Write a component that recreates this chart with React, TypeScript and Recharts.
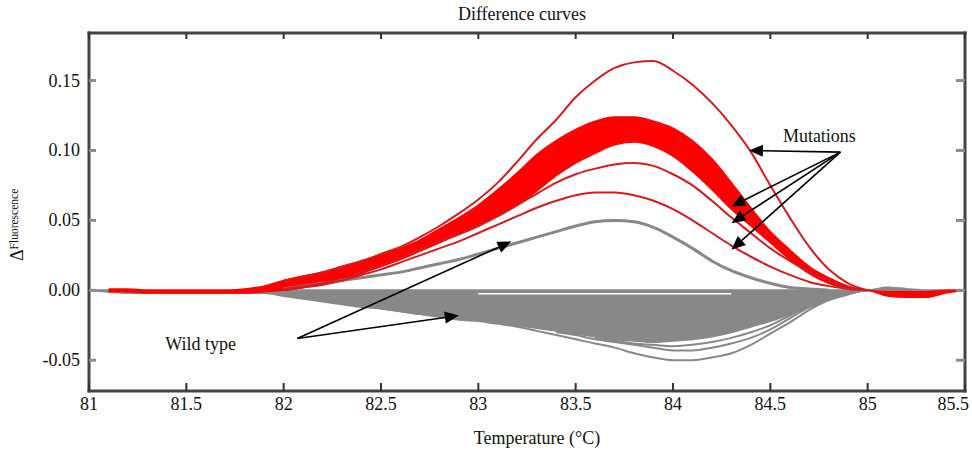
import { ComposedChart, Area, Line, XAxis, YAxis, ReferenceLine, ReferenceDot, ReferenceArea } from 'recharts'

// temperature grid (°C)
const temperature = [
  81.0, 81.1, 81.2, 81.3, 81.4, 81.5, 81.6, 81.7, 81.8, 81.9,
  82.0, 82.1, 82.2, 82.3, 82.4, 82.5, 82.6, 82.7, 82.8, 82.9,
  83.0, 83.1, 83.2, 83.3, 83.4, 83.5, 83.6, 83.7, 83.8, 83.9,
  84.0, 84.1, 84.2, 84.3, 84.4, 84.5, 84.6, 84.7, 84.8, 84.9,
  85.0, 85.1, 85.2, 85.3, 85.4, 85.5,
]

// dense cluster of mutation curves (upper / lower envelope)
const redBandHi = [
  null, 0.001, 0.001, 0.0, 0.0, 0.0, 0.0, 0.0, 0.001, 0.003,
  0.007, 0.010, 0.013, 0.017, 0.021, 0.025, 0.030, 0.036, 0.044, 0.052,
  0.061, 0.072, 0.084, 0.097, 0.107, 0.115, 0.121, 0.124, 0.124, 0.121,
  0.116, 0.107, 0.094, 0.077, 0.059, 0.042, 0.029, 0.017, 0.009, 0.003,
  0.0, -0.001, -0.001, -0.001, 0.0, 0.0,
]
const redBandLo = [
  null, -0.001, -0.001, -0.002, -0.002, -0.002, -0.002, -0.002, -0.002, -0.001,
  0.0, 0.002, 0.004, 0.008, 0.012, 0.017, 0.022, 0.028, 0.034, 0.040,
  0.046, 0.053, 0.061, 0.071, 0.082, 0.091, 0.098, 0.104, 0.106, 0.103,
  0.096, 0.085, 0.072, 0.058, 0.046, 0.034, 0.022, 0.012, 0.005, 0.001,
  0.0, -0.004, -0.005, -0.005, -0.002, 0.0,
]

// single mutation curves
const redTop = [
  null, null, null, null, null, null, null, null, null, null,
  0.007, 0.010, 0.013, 0.017, 0.021, 0.026, 0.031, 0.038, 0.046, 0.055,
  0.065, 0.077, 0.092, 0.108, 0.122, 0.138, 0.150, 0.159, 0.163, 0.164,
  0.157, 0.147, 0.134, 0.118, 0.099, 0.075, 0.052, 0.031, 0.015, 0.005,
  0.0, null, null, null, null, null,
]
const redMid = [
  null, null, null, null, null, null, null, null, null, null,
  0.001, 0.003, 0.005, 0.009, 0.013, 0.018, 0.023, 0.029, 0.035, 0.040,
  0.046, 0.053, 0.061, 0.069, 0.077, 0.083, 0.087, 0.090, 0.091, 0.089,
  0.083, 0.075, 0.064, 0.052, 0.041, 0.030, 0.021, 0.013, 0.007, 0.002,
  0.0, null, null, null, null, null,
]
const redLow = [
  null, null, null, null, null, null, null, null, null, null,
  0.0, 0.002, 0.004, 0.007, 0.011, 0.015, 0.020, 0.025, 0.030, 0.035,
  0.041, 0.047, 0.053, 0.059, 0.064, 0.068, 0.070, 0.070, 0.068, 0.064,
  0.058, 0.050, 0.041, 0.032, 0.024, 0.017, 0.011, 0.006, 0.003, 0.001,
  0.0, null, null, null, null, null,
]

// wild type curve lying above zero
const grayPeak = [
  null, null, null, null, null, null, null, null, null, null,
  0.001, 0.003, 0.005, 0.007, 0.009, 0.011, 0.013, 0.016, 0.019, 0.022,
  0.026, 0.030, 0.034, 0.038, 0.042, 0.046, 0.049, 0.050, 0.049, 0.045,
  0.038, 0.030, 0.021, 0.014, 0.009, 0.005, 0.002, 0.001, 0.0, null,
  null, null, null, null, null, null,
]

// dense cluster of wild type curves below zero
const grayBandHi = [
  0.0, 0.0, 0.0, 0.0, 0.0, 0.0, 0.0, 0.0, 0.0, 0.0,
  0.0, 0.0, 0.0, 0.0, 0.0, 0.0, 0.0, 0.0, 0.0, 0.0,
  0.0, 0.0, 0.0, 0.0, 0.0, 0.0, 0.0, 0.0, 0.0, 0.0,
  0.0, 0.0, 0.0, 0.0, 0.0, 0.0, 0.0, 0.0, 0.0, 0.0,
  0.0, 0.002, 0.001, 0.0, 0.0, 0.0,
]
const grayBandLo = [
  0.0, -0.001, -0.002, -0.002, -0.002, -0.002, -0.002, -0.002, -0.002, -0.002,
  -0.004, -0.006, -0.008, -0.010, -0.012, -0.013, -0.015, -0.017, -0.018, -0.020,
  -0.021, -0.023, -0.025, -0.027, -0.029, -0.031, -0.033, -0.035, -0.036, -0.037,
  -0.036, -0.035, -0.033, -0.030, -0.026, -0.022, -0.017, -0.012, -0.007, -0.003,
  0.0, 0.0, -0.001, -0.001, -0.001, 0.0,
]
const grayGap = [
  null, null, null, null, null, null, null, null, null, null,
  null, null, null, null, null, null, null, null, null, null,
  -0.0025, -0.0025, -0.0025, -0.0025, -0.0025, -0.0025, -0.0025, -0.0025, -0.0025, -0.0025,
  -0.0025, -0.0025, -0.0025, -0.0025, null, null, null, null, null, null,
  null, null, null, null, null, null,
]

// wild type curves that split off below the cluster
const grayLow1 = [
  null, null, null, null, null, null, null, null, null, null,
  -0.003, -0.005, -0.007, -0.009, -0.011, -0.013, -0.015, -0.017, -0.019, -0.021,
  -0.022, -0.024, -0.026, -0.029, -0.032, -0.035, -0.038, -0.041, -0.045, -0.048,
  -0.050, -0.050, -0.048, -0.045, -0.039, -0.031, -0.023, -0.014, -0.007, -0.002,
  0.0, null, null, null, null, null,
]
const grayLow2 = [
  null, null, null, null, null, null, null, null, null, null,
  null, null, null, null, null, null, null, null, null, null,
  null, null, null, null, -0.030, -0.032, -0.035, -0.037, -0.039, -0.041,
  -0.043, -0.043, -0.041, -0.038, -0.034, -0.028, -0.020, -0.012, -0.006, -0.002,
  0.0, null, null, null, null, null,
]
const grayLow3 = [
  null, null, null, null, null, null, null, null, null, null,
  null, null, null, null, null, null, null, null, null, null,
  null, null, null, null, null, null, -0.034, -0.036, -0.038, -0.039,
  -0.040, -0.039, -0.037, -0.034, -0.030, -0.025, -0.018, -0.011, -0.006, -0.002,
  0.0, null, null, null, null, null,
]

const xTicks = [81, 81.5, 82, 82.5, 83, 83.5, 84, 84.5, 85, 85.5]
const yTicks = [-0.05, 0, 0.05, 0.1, 0.15]
const xDomain = [81, 85.5]
const yDomain = [-0.072, 0.184]

// annotation arrows (data units)
const mutationsFrom = { x: 84.86, y: 0.0988 }
const mutationsTo = [
  { x: 84.39, y: 0.1 },
  { x: 84.3, y: 0.06 },
  { x: 84.3, y: 0.048 },
  { x: 84.3, y: 0.029 },
]
const wildFrom = { x: 82.07, y: -0.0345 }
const wildTo = [
  { x: 83.17, y: 0.035 },
  { x: 82.9, y: -0.018 },
]

const FONT = '"Liberation Serif", "Times New Roman", serif'
const RED = '#ff0000'
const RED_LINE = '#d41c1c'
const GRAY = '#888888'
const AXIS = '#444444'

const data = temperature.map((t, i) => ({
  t,
  redBand: redBandLo[i] === null ? null : [redBandLo[i], redBandHi[i]],
  grayBand: [grayBandLo[i], grayBandHi[i]],
  redTop: redTop[i],
  redMid: redMid[i],
  redLow: redLow[i],
  grayPeak: grayPeak[i],
  grayGap: grayGap[i],
  grayLow1: grayLow1[i],
  grayLow2: grayLow2[i],
  grayLow3: grayLow3[i],
}))

const Arrow = (props: any) => {
  const { x1, y1, x2, y2 } = props
  const dx = x2 - x1
  const dy = y2 - y1
  const len = Math.hypot(dx, dy) || 1
  const ux = dx / len
  const uy = dy / len
  const hl = 14
  const hw = 6
  const bx = x2 - ux * hl
  const by = y2 - uy * hl
  const pts = `${x2},${y2} ${bx - uy * hw},${by + ux * hw} ${bx + uy * hw},${by - ux * hw}`
  return (
    <g>
      <line x1={x1} y1={y1} x2={bx} y2={by} stroke="#000" strokeWidth={1.6} />
      <polygon points={pts} fill="#000" />
    </g>
  )
}

// plot frame drawn as filled strips
const Frame = (props: any) => {
  const { x, y, width, height } = props
  return (
    <g>
      <rect x={x - 1.5} y={y - 1.5} width={width + 3} height={3} fill={AXIS} />
      <rect x={x - 1.5} y={y + height - 1.5} width={width + 3} height={3} fill={AXIS} />
      <rect x={x - 1.5} y={y - 1.5} width={3} height={height + 3} fill={AXIS} />
      <rect x={x + width - 1.5} y={y - 1.5} width={3} height={height + 3} fill={AXIS} />
      <text x={x + width / 2 - 5} y={y - 13} textAnchor="middle" fontSize={18} fill="#111" fontFamily={FONT}>
        Difference curves
      </text>
    </g>
  )
}

// inward tick marks drawn at both ends of a full-height / full-width reference line
const XTickMarks = (props: any) => {
  const x = props.x1
  const top = Math.min(props.y1, props.y2)
  const bottom = Math.max(props.y1, props.y2)
  return (
    <g>
      <rect x={x - 1} y={top} width={2} height={6} fill="#333" />
      <rect x={x - 1} y={bottom - 8} width={2} height={8} fill="#333" />
    </g>
  )
}
const YTickMarks = (props: any) => {
  const y = props.y1
  const left = Math.min(props.x1, props.x2)
  const right = Math.max(props.x1, props.x2)
  return (
    <g>
      <rect x={left} y={y - 1.5} width={7} height={3} fill="#8c8c8c" />
      <rect x={right - 9} y={y - 1.5} width={9} height={3} fill="#8c8c8c" />
    </g>
  )
}

const BottomTick = (props: any) => {
  const { x, y, payload, index } = props
  const last = index === xTicks.length - 1
  return (
    <text x={last ? x + 4 : x} y={y + 19} textAnchor={last ? 'end' : 'middle'} fontSize={18} fill="#111" fontFamily={FONT}>
      {payload.value}
    </text>
  )
}
const LeftTick = (props: any) => {
  const { x, y, payload } = props
  return (
    <text x={x - 9} y={y + 6} textAnchor="end" fontSize={18} fill="#111" fontFamily={FONT}>
      {payload.value.toFixed(2)}
    </text>
  )
}

const lineProps = {
  xAxisId: 'x',
  yAxisId: 'left',
  type: 'monotone' as const,
  dot: false,
  activeDot: false,
  isAnimationActive: false,
  connectNulls: false,
}
const refIds = { xAxisId: 'x', yAxisId: 'left', ifOverflow: 'visible' as const }

export default function App() {
  return (
    <div style={{ position: 'absolute', left: 0, top: 0, fontFamily: FONT }}>
      <ComposedChart width={972} height={453} data={data} margin={{ top: 33, right: 7, bottom: 0, left: 0 }}>
        <XAxis
          xAxisId="x"
          dataKey="t"
          type="number"
          domain={xDomain}
          allowDataOverflow
          ticks={xTicks}
          interval={0}
          height={62}
          axisLine={false}
          tickLine={false}
          tickSize={0}
          tickMargin={0}
          tick={<BottomTick />}
          label={(p: any) => {
            const vb = p.viewBox
            return (
              <text x={vb.x + vb.width / 2 + 10} y={vb.y + 53} textAnchor="middle" fontSize={18} fill="#111" fontFamily={FONT}>
                Temperature (°C)
              </text>
            )
          }}
        />
        <YAxis
          yAxisId="left"
          type="number"
          domain={yDomain}
          allowDataOverflow
          ticks={yTicks}
          interval={0}
          width={89}
          axisLine={false}
          tickLine={false}
          tickSize={0}
          tickMargin={0}
          tick={<LeftTick />}
          label={(p: any) => {
            const vb = p.viewBox
            const cx = vb.x + 23
            const cy = vb.y + 228
            return (
              <text x={cx} y={cy} transform={`rotate(-90 ${cx} ${cy})`} fontSize={18} fill="#111" fontFamily={FONT}>
                <tspan>Δ</tspan>
                <tspan dy={-5} fontSize={11.5}>Fluorescence</tspan>
              </text>
            )
          }}
        />

        <Area
          xAxisId="x"
          yAxisId="left"
          type="monotone"
          dataKey="grayBand"
          fill={GRAY}
          fillOpacity={1}
          stroke={GRAY}
          strokeWidth={2}
          isAnimationActive={false}
          activeDot={false}
        />
        <Line {...lineProps} dataKey="grayGap" stroke="#ffffff" strokeWidth={1.5} />
        <Line {...lineProps} dataKey="grayLow3" stroke={GRAY} strokeWidth={2} />
        <Line {...lineProps} dataKey="grayLow2" stroke={GRAY} strokeWidth={2} />
        <Line {...lineProps} dataKey="grayLow1" stroke={GRAY} strokeWidth={2} />
        <Line {...lineProps} dataKey="grayPeak" stroke={GRAY} strokeWidth={3} />
        <Area
          xAxisId="x"
          yAxisId="left"
          type="monotone"
          dataKey="redBand"
          fill={RED}
          fillOpacity={1}
          stroke={RED}
          strokeWidth={1.5}
          isAnimationActive={false}
          activeDot={false}
        />
        <Line {...lineProps} dataKey="redLow" stroke={RED_LINE} strokeWidth={2} />
        <Line {...lineProps} dataKey="redMid" stroke={RED_LINE} strokeWidth={2} />
        <Line {...lineProps} dataKey="redTop" stroke={RED_LINE} strokeWidth={2} />

        {/* plot frame with the title above it */}
        <ReferenceArea
          {...refIds}
          x1={xDomain[0]}
          x2={xDomain[1]}
          y1={yDomain[0]}
          y2={yDomain[1]}
          shape={Frame}
        />
        {xTicks.map((t) => (
          <ReferenceLine key={`xt-${t}`} {...refIds} x={t} shape={XTickMarks} />
        ))}
        {yTicks.map((v) => (
          <ReferenceLine key={`yt-${v}`} {...refIds} y={v} shape={YTickMarks} />
        ))}

        {mutationsTo.map((p, i) => (
          <ReferenceLine key={`mut-${i}`} {...refIds} segment={[mutationsFrom, p]} shape={Arrow} />
        ))}
        {wildTo.map((p, i) => (
          <ReferenceLine key={`wild-${i}`} {...refIds} segment={[wildFrom, p]} shape={Arrow} />
        ))}
        <ReferenceDot
          {...refIds}
          x={84.752}
          y={0.1107}
          r={0}
          fill="none"
          stroke="none"
          label={{ value: 'Mutations', position: 'center', fontSize: 18, fill: '#111', fontFamily: FONT }}
        />
        <ReferenceDot
          {...refIds}
          x={81.574}
          y={-0.0379}
          r={0}
          fill="none"
          stroke="none"
          label={{ value: 'Wild type', position: 'center', fontSize: 18, fill: '#111', fontFamily: FONT }}
        />
      </ComposedChart>
    </div>
  )
}
